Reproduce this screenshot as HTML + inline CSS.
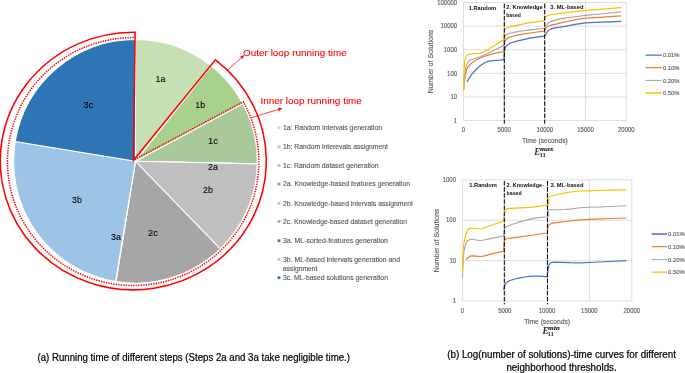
<!DOCTYPE html>
<html><head><meta charset="utf-8"><title>figure</title>
<style>html,body{margin:0;padding:0;background:#fff}body{width:685px;height:373px;overflow:hidden}svg text{white-space:pre}</style></head>
<body>
<svg width="685" height="373" viewBox="0 0 685 373" style="display:block;will-change:transform;opacity:0.9999">
<rect width="685" height="373" fill="#fff"/>
<g id="pie">
<path d="M135.45,161.30 L135.45,39.45 A121.85,121.85 0 0 1 211.30,65.94 Z" fill="#C5E0B4" stroke="#fff" stroke-width="1.05" stroke-linejoin="round"/>
<path d="M135.45,161.30 L211.30,65.94 A121.85,121.85 0 0 1 242.94,103.91 Z" fill="#A9D18E" stroke="#fff" stroke-width="1.05" stroke-linejoin="round"/>
<path d="M135.45,161.30 L242.94,103.91 A121.85,121.85 0 0 1 257.27,163.85 Z" fill="#A9C99B" stroke="#fff" stroke-width="1.05" stroke-linejoin="round"/>
<path d="M135.45,161.30 L257.27,163.85 A121.85,121.85 0 0 1 257.27,164.06 Z" fill="#8FB574" stroke="#fff" stroke-width="1.05" stroke-linejoin="round"/>
<path d="M135.45,161.30 L257.27,164.06 A121.85,121.85 0 0 1 220.25,248.80 Z" fill="#BFBFBF" stroke="#fff" stroke-width="1.05" stroke-linejoin="round"/>
<path d="M135.45,161.30 L220.25,248.80 A121.85,121.85 0 0 1 115.97,281.58 Z" fill="#A6A6A6" stroke="#fff" stroke-width="1.05" stroke-linejoin="round"/>
<path d="M135.45,161.30 L115.97,281.58 A121.85,121.85 0 0 1 115.55,281.51 Z" fill="#548235" stroke="#fff" stroke-width="1.05" stroke-linejoin="round"/>
<path d="M135.45,161.30 L115.55,281.51 A121.85,121.85 0 0 1 15.24,141.40 Z" fill="#9DC3E6" stroke="#fff" stroke-width="1.05" stroke-linejoin="round"/>
<path d="M135.45,161.30 L15.24,141.40 A121.85,121.85 0 0 1 135.45,39.45 Z" fill="#2E75B6" stroke="#fff" stroke-width="1.05" stroke-linejoin="round"/>
</g>
<path d="M133.45,160.2 L215.47,59.78 A133.0,128.8 0 1 1 135.10,32.26 Z" fill="none" stroke="#FF0000" stroke-width="1.55" stroke-linejoin="miter"/>
<path d="M133.45,160.2 L243.28,101.72 A125.7,123.95 0 1 1 134.00,37.60" fill="none" stroke="#FF0000" stroke-width="1.5" stroke-dasharray="1.4 1.1" stroke-dashoffset="1.0"/>
<line x1="228.30" y1="69.50" x2="241.28" y2="57.81" stroke="#FF0000" stroke-width="0.75"/><path d="M244.40,55.00 L242.42,59.07 L240.14,56.55 Z" fill="#FF0000"/>
<line x1="251.10" y1="117.60" x2="278.37" y2="109.50" stroke="#FF0000" stroke-width="0.75"/><path d="M282.40,108.30 L278.86,111.13 L277.89,107.87 Z" fill="#FF0000"/>
<g font-family="Liberation Sans, sans-serif">
<text x="243.1" y="56.1" font-size="9.7" fill="#FF0000" textLength="103.6" lengthAdjust="spacingAndGlyphs" stroke="#FF0000" stroke-width="0.08">Outer loop running time</text>
<text x="260.4" y="104" font-size="9.7" fill="#FF0000" textLength="101.5" lengthAdjust="spacingAndGlyphs" stroke="#FF0000" stroke-width="0.08">Inner loop running time</text>
<text x="160.4" y="81.8" font-size="9.6" fill="#000" text-anchor="middle" textLength="9.8" lengthAdjust="spacingAndGlyphs" stroke="#000" stroke-width="0.1">1a</text>
<text x="200.2" y="107.6" font-size="9.6" fill="#000" text-anchor="middle" textLength="9.8" lengthAdjust="spacingAndGlyphs" stroke="#000" stroke-width="0.1">1b</text>
<text x="212.9" y="143.8" font-size="9.6" fill="#000" text-anchor="middle" textLength="9.8" lengthAdjust="spacingAndGlyphs" stroke="#000" stroke-width="0.1">1c</text>
<text x="212.9" y="170.3" font-size="9.6" fill="#000" text-anchor="middle" textLength="9.8" lengthAdjust="spacingAndGlyphs" stroke="#000" stroke-width="0.1">2a</text>
<text x="207.9" y="193.3" font-size="9.6" fill="#000" text-anchor="middle" textLength="9.8" lengthAdjust="spacingAndGlyphs" stroke="#000" stroke-width="0.1">2b</text>
<text x="152.9" y="235.8" font-size="9.6" fill="#000" text-anchor="middle" textLength="9.8" lengthAdjust="spacingAndGlyphs" stroke="#000" stroke-width="0.1">2c</text>
<text x="115.9" y="239.8" font-size="9.6" fill="#000" text-anchor="middle" textLength="9.8" lengthAdjust="spacingAndGlyphs" stroke="#000" stroke-width="0.1">3a</text>
<text x="76.9" y="203.3" font-size="9.6" fill="#000" text-anchor="middle" textLength="9.8" lengthAdjust="spacingAndGlyphs" stroke="#000" stroke-width="0.1">3b</text>
<text x="88.4" y="108.3" font-size="9.6" fill="#000" text-anchor="middle" textLength="9.8" lengthAdjust="spacingAndGlyphs" stroke="#000" stroke-width="0.1">3c</text>
<rect x="277.6" y="126.3" width="2.8" height="2.8" fill="#C5E0B4"/>
<text x="283" y="129.9" font-size="6.3" fill="#595959" textLength="99" lengthAdjust="spacingAndGlyphs" stroke="#595959" stroke-width="0.12">1a: Random intervals generation</text>
<rect x="277.6" y="145.5" width="2.8" height="2.8" fill="#A9D18E"/>
<text x="283" y="149.1" font-size="6.3" fill="#595959" textLength="105" lengthAdjust="spacingAndGlyphs" stroke="#595959" stroke-width="0.12">1b: Random interevals assignment</text>
<rect x="277.6" y="164.1" width="2.8" height="2.8" fill="#A9C99B"/>
<text x="283" y="167.7" font-size="6.3" fill="#595959" textLength="95.5" lengthAdjust="spacingAndGlyphs" stroke="#595959" stroke-width="0.12">1c: Random dataset generation</text>
<rect x="277.6" y="182.7" width="2.8" height="2.8" fill="#7DB55B"/>
<text x="283" y="186.3" font-size="6.3" fill="#595959" textLength="127" lengthAdjust="spacingAndGlyphs" stroke="#595959" stroke-width="0.12">2a. Knowledge-based features generation</text>
<rect x="277.6" y="201.9" width="2.8" height="2.8" fill="#BFBFBF"/>
<text x="283" y="205.5" font-size="6.3" fill="#595959" textLength="130" lengthAdjust="spacingAndGlyphs" stroke="#595959" stroke-width="0.12">2b. Knowledge-based intervals assignment</text>
<rect x="277.6" y="220.2" width="2.8" height="2.8" fill="#A6A6A6"/>
<text x="283" y="223.8" font-size="6.3" fill="#595959" textLength="124" lengthAdjust="spacingAndGlyphs" stroke="#595959" stroke-width="0.12">2c. Knowledge-based dataset generation</text>
<rect x="277.6" y="239.3" width="2.8" height="2.8" fill="#4E8F2F"/>
<text x="283" y="242.9" font-size="6.3" fill="#595959" textLength="105" lengthAdjust="spacingAndGlyphs" stroke="#595959" stroke-width="0.12">3a. ML-sorted-features generation</text>
<rect x="277.6" y="257.9" width="2.8" height="2.8" fill="#9DC3E6"/>
<text x="283" y="261.5" font-size="6.3" fill="#595959" textLength="117" lengthAdjust="spacingAndGlyphs" stroke="#595959" stroke-width="0.12">3b. ML-based intervals generation and</text>
<rect x="277.6" y="276.3" width="2.8" height="2.8" fill="#2E75B6"/>
<text x="283" y="279.9" font-size="6.3" fill="#595959" textLength="105" lengthAdjust="spacingAndGlyphs" stroke="#595959" stroke-width="0.12">3c. ML-based solutions generation</text>
<text x="283" y="270.6" font-size="6.3" fill="#595959" textLength="34.3" lengthAdjust="spacingAndGlyphs" stroke="#595959" stroke-width="0.12">assignment</text>
<text x="37.5" y="360.6" font-size="10.4" fill="#000" textLength="312.5" lengthAdjust="spacingAndGlyphs" stroke="#000" stroke-width="0.22">(a) Running time of different steps (Steps 2a and 3a take negligible time.)</text>
<text x="447.2" y="358.4" font-size="10.4" fill="#000" textLength="228.8" lengthAdjust="spacingAndGlyphs" stroke="#000" stroke-width="0.22">(b) Log(number of solutions)-time curves for different</text>
<text x="506.4" y="370.7" font-size="10.4" fill="#000" textLength="110.3" lengthAdjust="spacingAndGlyphs" stroke="#000" stroke-width="0.22">neighborhood thresholds.</text>
</g>
<g>
<line x1="463.5" y1="2.50" x2="626.3" y2="2.50" stroke="#D4D4D4" stroke-width="0.75"/>
<line x1="463.5" y1="26.10" x2="626.3" y2="26.10" stroke="#D4D4D4" stroke-width="0.75"/>
<line x1="463.5" y1="49.70" x2="626.3" y2="49.70" stroke="#D4D4D4" stroke-width="0.75"/>
<line x1="463.5" y1="73.30" x2="626.3" y2="73.30" stroke="#D4D4D4" stroke-width="0.75"/>
<line x1="463.5" y1="96.90" x2="626.3" y2="96.90" stroke="#D4D4D4" stroke-width="0.75"/>
<line x1="463.5" y1="120.50" x2="626.3" y2="120.50" stroke="#D4D4D4" stroke-width="0.75"/>
<line x1="463.50" y1="2.5" x2="463.50" y2="120.5" stroke="#D4D4D4" stroke-width="0.75"/>
<line x1="504.20" y1="2.5" x2="504.20" y2="120.5" stroke="#D4D4D4" stroke-width="0.75"/>
<line x1="544.90" y1="2.5" x2="544.90" y2="120.5" stroke="#D4D4D4" stroke-width="0.75"/>
<line x1="585.60" y1="2.5" x2="585.60" y2="120.5" stroke="#D4D4D4" stroke-width="0.75"/>
<line x1="626.30" y1="2.5" x2="626.30" y2="120.5" stroke="#D4D4D4" stroke-width="0.75"/>
<path d="M467.3,81.4 L468.8,79.0 L470.0,77.0 L471.5,74.6 L474.2,71.5 L477.7,68.0 L481.2,64.9 L484.8,62.7 L488.3,61.3 L491.0,60.8 L495.4,60.4 L499.8,60.1 L503.9,59.7 L504.3,54.0 L504.7,50.0 L505.5,47.3 L507.0,45.2 L510.0,43.3 L515.0,41.6 L520.0,40.3 L530.0,38.2 L540.0,36.6 L544.4,36.1 L545.3,35.2 L546.0,34.3 L547.0,32.1 L548.0,30.9 L549.0,29.9 L552.0,28.7 L556.0,27.6 L560.0,27.2 L565.0,26.4 L575.0,24.4 L585.6,22.8 L600.0,22.2 L610.0,21.8 L620.8,21.3" fill="none" stroke="#4472C4" stroke-width="1.2" stroke-linejoin="round" stroke-linecap="round"/>
<path d="M463.8,89.0 L464.1,84.0 L464.6,80.0 L465.1,76.0 L465.6,73.3 L466.6,69.7 L468.0,67.0 L470.6,64.0 L473.3,61.9 L476.0,60.3 L480.4,57.8 L486.5,55.6 L492.7,53.9 L498.0,52.7 L503.9,51.6 L504.3,45.0 L504.8,41.9 L506.0,39.2 L508.0,37.9 L510.0,37.0 L515.0,35.7 L520.0,34.7 L530.0,33.0 L540.0,31.7 L544.4,31.2 L545.2,29.8 L546.0,28.1 L547.0,27.1 L548.0,26.4 L552.0,24.9 L556.0,24.1 L560.0,23.2 L565.0,22.0 L575.0,19.8 L585.6,18.1 L600.0,17.3 L610.0,16.7 L620.8,15.9" fill="none" stroke="#ED7D31" stroke-width="1.2" stroke-linejoin="round" stroke-linecap="round"/>
<path d="M463.7,89.6 L464.0,82.0 L464.6,75.0 L465.3,70.6 L466.2,66.2 L467.5,63.1 L468.8,61.3 L470.6,59.9 L475.0,58.5 L480.4,56.7 L486.5,54.0 L492.7,50.9 L498.0,48.3 L502.5,46.1 L503.9,45.3 L504.3,40.0 L504.8,37.0 L506.0,34.8 L508.0,33.8 L510.0,33.2 L515.0,32.1 L520.0,31.2 L530.0,29.9 L540.0,28.8 L544.4,28.4 L545.2,27.0 L546.0,25.5 L547.0,24.2 L548.0,23.3 L550.0,22.0 L552.0,21.1 L556.0,19.9 L560.0,18.9 L565.0,18.1 L575.0,16.7 L585.6,15.4 L600.0,14.0 L610.0,13.0 L620.8,11.9" fill="none" stroke="#A5A5A5" stroke-width="1.1" stroke-linejoin="round" stroke-linecap="round"/>
<path d="M463.7,89.6 L463.9,80.0 L464.2,68.0 L464.7,62.0 L465.3,58.0 L466.2,56.2 L467.1,55.2 L469.7,54.0 L474.2,53.6 L478.0,53.4 L480.4,53.1 L482.2,52.6 L483.9,51.8 L486.5,50.3 L489.2,48.7 L495.4,44.9 L500.7,41.6 L503.8,39.7 L504.2,34.0 L504.5,30.0 L505.2,28.8 L507.0,27.7 L510.0,26.8 L515.0,25.7 L520.0,24.6 L530.0,22.6 L540.0,21.3 L544.3,20.6 L544.8,19.0 L545.5,17.1 L546.5,16.2 L548.0,15.5 L552.0,14.4 L555.0,14.1 L560.0,13.4 L565.0,12.9 L575.0,11.6 L585.6,10.4 L600.0,9.3 L610.0,8.6 L620.8,7.7" fill="none" stroke="#FFC000" stroke-width="1.2" stroke-linejoin="round" stroke-linecap="round"/>
<line x1="504.3" y1="3.7" x2="504.3" y2="123.7" stroke="#000" stroke-width="1.0" stroke-dasharray="4.6 1.5"/>
<line x1="544.7" y1="3.7" x2="544.7" y2="123.7" stroke="#000" stroke-width="1.0" stroke-dasharray="4.6 1.5"/>
<g font-family="Liberation Sans, sans-serif">
<text x="457.1" y="4.7" font-size="6.3" fill="#595959" text-anchor="end" textLength="19.9" lengthAdjust="spacingAndGlyphs" stroke="#595959" stroke-width="0.12">100000</text>
<text x="457.1" y="28.3" font-size="6.3" fill="#595959" text-anchor="end" textLength="16.6" lengthAdjust="spacingAndGlyphs" stroke="#595959" stroke-width="0.12">10000</text>
<text x="457.1" y="51.9" font-size="6.3" fill="#595959" text-anchor="end" textLength="13.3" lengthAdjust="spacingAndGlyphs" stroke="#595959" stroke-width="0.12">1000</text>
<text x="457.1" y="75.5" font-size="6.3" fill="#595959" text-anchor="end" textLength="10.0" lengthAdjust="spacingAndGlyphs" stroke="#595959" stroke-width="0.12">100</text>
<text x="457.1" y="99.1" font-size="6.3" fill="#595959" text-anchor="end" textLength="6.6" lengthAdjust="spacingAndGlyphs" stroke="#595959" stroke-width="0.12">10</text>
<text x="457.1" y="122.7" font-size="6.3" fill="#595959" text-anchor="end" textLength="3.3" lengthAdjust="spacingAndGlyphs" stroke="#595959" stroke-width="0.12">1</text>
<text x="463.5" y="132.0" font-size="6.3" fill="#595959" text-anchor="middle" textLength="3.3" lengthAdjust="spacingAndGlyphs" stroke="#595959" stroke-width="0.12">0</text>
<text x="504.2" y="132.0" font-size="6.3" fill="#595959" text-anchor="middle" textLength="13.3" lengthAdjust="spacingAndGlyphs" stroke="#595959" stroke-width="0.12">5000</text>
<text x="544.9" y="132.0" font-size="6.3" fill="#595959" text-anchor="middle" textLength="16.6" lengthAdjust="spacingAndGlyphs" stroke="#595959" stroke-width="0.12">10000</text>
<text x="585.6" y="132.0" font-size="6.3" fill="#595959" text-anchor="middle" textLength="16.6" lengthAdjust="spacingAndGlyphs" stroke="#595959" stroke-width="0.12">15000</text>
<text x="626.3" y="132.0" font-size="6.3" fill="#595959" text-anchor="middle" textLength="16.6" lengthAdjust="spacingAndGlyphs" stroke="#595959" stroke-width="0.12">20000</text>
<text x="544.9" y="143.2" font-size="6.9" fill="#595959" text-anchor="middle" textLength="45.8" lengthAdjust="spacingAndGlyphs" stroke="#595959" stroke-width="0.12">Time (seconds)</text>
<text transform="translate(432.8,61.5) rotate(-90)" font-size="6.3" fill="#595959" text-anchor="middle" textLength="63.6" lengthAdjust="spacingAndGlyphs" stroke="#595959" stroke-width="0.12">Number of Solutions</text>
<text x="468.7" y="9.7" font-size="5.9" fill="#0d0d0d" textLength="27.5" lengthAdjust="spacingAndGlyphs" font-weight="bold" >1.Random</text>
<text x="506.3" y="8.9" font-size="5.9" fill="#0d0d0d" textLength="36.4" lengthAdjust="spacingAndGlyphs" font-weight="bold" >2. Knowledge</text>
<text x="506.3" y="16.8" font-size="5.9" fill="#0d0d0d" textLength="14.4" lengthAdjust="spacingAndGlyphs" font-weight="bold" >based</text>
<text x="550.3" y="8.9" font-size="5.9" fill="#0d0d0d" textLength="33.2" lengthAdjust="spacingAndGlyphs" font-weight="bold" >3. ML-based</text>
<line x1="646" y1="55.2" x2="661.3" y2="55.2" stroke="#4472C4" stroke-width="1.3" stroke-linecap="round"/>
<text x="662.9" y="57.3" font-size="6.0" fill="#595959" textLength="16.7" lengthAdjust="spacingAndGlyphs" stroke="#595959" stroke-width="0.12">0.01%</text>
<line x1="646" y1="67.6" x2="661.3" y2="67.6" stroke="#ED7D31" stroke-width="1.3" stroke-linecap="round"/>
<text x="662.9" y="69.7" font-size="6.0" fill="#595959" textLength="16.7" lengthAdjust="spacingAndGlyphs" stroke="#595959" stroke-width="0.12">0.10%</text>
<line x1="646" y1="80.4" x2="661.3" y2="80.4" stroke="#A5A5A5" stroke-width="1.0" stroke-linecap="round"/>
<text x="662.9" y="82.5" font-size="6.0" fill="#595959" textLength="16.7" lengthAdjust="spacingAndGlyphs" stroke="#595959" stroke-width="0.12">0.20%</text>
<line x1="646" y1="93" x2="661.3" y2="93" stroke="#FFC000" stroke-width="1.3" stroke-linecap="round"/>
<text x="662.9" y="95.1" font-size="6.0" fill="#595959" textLength="16.7" lengthAdjust="spacingAndGlyphs" stroke="#595959" stroke-width="0.12">0.50%</text>
</g>
<g font-family="Liberation Serif, serif" font-style="italic" font-weight="bold" fill="#262626"><text x="534.3" y="154.8" font-size="9.6" textLength="6.0" lengthAdjust="spacingAndGlyphs">E</text><text x="540.0" y="150.7" font-size="6.2" textLength="13.6" lengthAdjust="spacingAndGlyphs" stroke="#262626" stroke-width="0.15">max</text><text x="539.5" y="156.7" font-size="6.2" font-style="normal" textLength="6.4" lengthAdjust="spacingAndGlyphs">11</text></g>
</g>
<g>
<line x1="462.4" y1="179.80" x2="631.8" y2="179.80" stroke="#D4D4D4" stroke-width="0.75"/>
<line x1="462.4" y1="220.23" x2="631.8" y2="220.23" stroke="#D4D4D4" stroke-width="0.75"/>
<line x1="462.4" y1="260.67" x2="631.8" y2="260.67" stroke="#D4D4D4" stroke-width="0.75"/>
<line x1="462.4" y1="301.10" x2="631.8" y2="301.10" stroke="#D4D4D4" stroke-width="0.75"/>
<line x1="462.40" y1="179.8" x2="462.40" y2="301.1" stroke="#D4D4D4" stroke-width="0.75"/>
<line x1="504.75" y1="179.8" x2="504.75" y2="301.1" stroke="#D4D4D4" stroke-width="0.75"/>
<line x1="547.10" y1="179.8" x2="547.10" y2="301.1" stroke="#D4D4D4" stroke-width="0.75"/>
<line x1="589.45" y1="179.8" x2="589.45" y2="301.1" stroke="#D4D4D4" stroke-width="0.75"/>
<line x1="631.80" y1="179.8" x2="631.80" y2="301.1" stroke="#D4D4D4" stroke-width="0.75"/>
<path d="M503.7,289.7 L504.3,287.0 L505.0,285.0 L506.0,283.2 L507.5,281.8 L510.0,280.5 L515.0,279.0 L520.0,277.8 L525.0,277.0 L530.0,276.3 L535.0,276.0 L540.0,276.2 L547.2,276.8 L547.7,272.0 L548.2,268.0 L549.0,265.0 L550.0,263.3 L551.5,262.5 L554.0,262.1 L560.0,262.3 L570.0,262.7 L580.0,262.8 L589.4,262.5 L600.0,262.0 L610.0,261.5 L625.8,260.6" fill="none" stroke="#4472C4" stroke-width="1.2" stroke-linejoin="round" stroke-linecap="round"/>
<path d="M466.4,259.4 L467.0,258.5 L467.7,257.7 L469.5,256.4 L472.2,255.8 L475.7,256.1 L480.1,256.5 L483.7,256.1 L489.0,254.6 L495.2,253.1 L503.7,251.1 L504.0,245.0 L504.4,240.5 L505.0,239.4 L508.0,238.3 L510.0,238.1 L518.0,237.1 L530.0,235.5 L540.0,234.0 L547.2,233.0 L547.6,229.0 L548.2,226.3 L549.0,225.0 L550.0,224.2 L552.0,223.3 L555.0,222.8 L560.0,222.1 L565.0,221.5 L575.0,220.3 L589.4,219.3 L600.0,218.8 L610.0,218.5 L625.8,218.0" fill="none" stroke="#ED7D31" stroke-width="1.2" stroke-linejoin="round" stroke-linecap="round"/>
<path d="M462.5,277.0 L462.8,270.0 L463.3,258.0 L464.0,251.0 L464.6,248.0 L466.0,243.3 L467.7,240.7 L470.4,239.3 L473.0,239.3 L476.6,240.0 L480.1,240.5 L483.7,240.0 L489.0,238.9 L495.2,237.6 L503.7,236.0 L504.1,231.5 L504.6,228.3 L507.0,226.5 L512.0,224.4 L518.0,222.4 L525.0,220.5 L530.0,219.1 L535.0,218.1 L540.0,217.5 L547.2,216.7 L548.5,216.3 L548.9,215.0 L548.5,212.5 L548.1,210.3 L548.6,209.7 L551.0,209.7 L555.0,209.8 L560.0,209.7 L565.0,209.5 L570.0,209.1 L575.0,208.5 L580.0,207.8 L589.4,207.3 L600.0,207.0 L610.0,206.5 L625.8,205.8" fill="none" stroke="#A5A5A5" stroke-width="1.1" stroke-linejoin="round" stroke-linecap="round"/>
<path d="M462.6,270.0 L462.9,258.0 L463.3,248.0 L463.9,243.0 L464.6,239.8 L466.0,234.0 L467.7,230.0 L470.0,228.5 L472.6,228.1 L475.7,228.5 L479.2,229.0 L482.8,228.5 L487.2,226.9 L493.4,224.7 L498.7,222.8 L503.7,221.0 L504.1,216.0 L504.6,212.5 L505.5,210.0 L507.0,208.8 L510.0,208.3 L520.0,207.8 L530.0,207.3 L540.0,206.1 L547.2,205.1 L548.4,204.6 L548.9,203.3 L548.7,201.0 L548.0,198.6 L548.1,197.2 L549.5,196.6 L552.0,196.0 L556.0,195.0 L560.0,194.0 L565.0,192.9 L570.0,192.0 L580.0,191.0 L589.4,190.8 L600.0,190.5 L610.0,190.2 L625.8,189.8" fill="none" stroke="#FFC000" stroke-width="1.2" stroke-linejoin="round" stroke-linecap="round"/>
<line x1="504.3" y1="181.0" x2="504.3" y2="304.3" stroke="#000" stroke-width="1.0" stroke-dasharray="4.6 1.5"/>
<line x1="547.5" y1="181.0" x2="547.5" y2="304.3" stroke="#000" stroke-width="1.0" stroke-dasharray="4.6 1.5"/>
<g font-family="Liberation Sans, sans-serif">
<text x="456.0" y="182.0" font-size="6.3" fill="#595959" text-anchor="end" textLength="13.3" lengthAdjust="spacingAndGlyphs" stroke="#595959" stroke-width="0.12">1000</text>
<text x="456.0" y="222.4" font-size="6.3" fill="#595959" text-anchor="end" textLength="10.0" lengthAdjust="spacingAndGlyphs" stroke="#595959" stroke-width="0.12">100</text>
<text x="456.0" y="262.9" font-size="6.3" fill="#595959" text-anchor="end" textLength="6.6" lengthAdjust="spacingAndGlyphs" stroke="#595959" stroke-width="0.12">10</text>
<text x="456.0" y="303.3" font-size="6.3" fill="#595959" text-anchor="end" textLength="3.3" lengthAdjust="spacingAndGlyphs" stroke="#595959" stroke-width="0.12">1</text>
<text x="462.4" y="312.8" font-size="6.3" fill="#595959" text-anchor="middle" textLength="3.3" lengthAdjust="spacingAndGlyphs" stroke="#595959" stroke-width="0.12">0</text>
<text x="504.8" y="312.8" font-size="6.3" fill="#595959" text-anchor="middle" textLength="13.3" lengthAdjust="spacingAndGlyphs" stroke="#595959" stroke-width="0.12">5000</text>
<text x="547.1" y="312.8" font-size="6.3" fill="#595959" text-anchor="middle" textLength="16.6" lengthAdjust="spacingAndGlyphs" stroke="#595959" stroke-width="0.12">10000</text>
<text x="589.4" y="312.8" font-size="6.3" fill="#595959" text-anchor="middle" textLength="16.6" lengthAdjust="spacingAndGlyphs" stroke="#595959" stroke-width="0.12">15000</text>
<text x="631.8" y="312.8" font-size="6.3" fill="#595959" text-anchor="middle" textLength="16.6" lengthAdjust="spacingAndGlyphs" stroke="#595959" stroke-width="0.12">20000</text>
<text x="547.1" y="324.1" font-size="6.9" fill="#595959" text-anchor="middle" textLength="45.8" lengthAdjust="spacingAndGlyphs" stroke="#595959" stroke-width="0.12">Time (seconds)</text>
<text transform="translate(439.0,240.5) rotate(-90)" font-size="6.3" fill="#595959" text-anchor="middle" textLength="63.6" lengthAdjust="spacingAndGlyphs" stroke="#595959" stroke-width="0.12">Number of Solutions</text>
<text x="469.2" y="187.0" font-size="5.9" fill="#0d0d0d" textLength="27.8" lengthAdjust="spacingAndGlyphs" font-weight="bold" >1.Random</text>
<text x="506.6" y="186.8" font-size="5.9" fill="#0d0d0d" textLength="37.4" lengthAdjust="spacingAndGlyphs" font-weight="bold" >2. Knowledge-</text>
<text x="506.6" y="194.7" font-size="5.9" fill="#0d0d0d" textLength="15.0" lengthAdjust="spacingAndGlyphs" font-weight="bold" >based</text>
<text x="550.4" y="186.8" font-size="5.9" fill="#0d0d0d" textLength="33.1" lengthAdjust="spacingAndGlyphs" font-weight="bold" >3. ML-based</text>
<line x1="652.2" y1="234" x2="666.7" y2="234" stroke="#4472C4" stroke-width="1.3" stroke-linecap="round"/>
<text x="668.1" y="236.1" font-size="6.0" fill="#595959" textLength="16.7" lengthAdjust="spacingAndGlyphs" stroke="#595959" stroke-width="0.12">0.01%</text>
<line x1="652.2" y1="246.7" x2="666.7" y2="246.7" stroke="#ED7D31" stroke-width="1.3" stroke-linecap="round"/>
<text x="668.1" y="248.8" font-size="6.0" fill="#595959" textLength="16.7" lengthAdjust="spacingAndGlyphs" stroke="#595959" stroke-width="0.12">0.10%</text>
<line x1="652.2" y1="259.6" x2="666.7" y2="259.6" stroke="#A5A5A5" stroke-width="1.0" stroke-linecap="round"/>
<text x="668.1" y="261.7" font-size="6.0" fill="#595959" textLength="16.7" lengthAdjust="spacingAndGlyphs" stroke="#595959" stroke-width="0.12">0.20%</text>
<line x1="652.2" y1="272.1" x2="666.7" y2="272.1" stroke="#FFC000" stroke-width="1.3" stroke-linecap="round"/>
<text x="668.1" y="274.2" font-size="6.0" fill="#595959" textLength="16.7" lengthAdjust="spacingAndGlyphs" stroke="#595959" stroke-width="0.12">0.50%</text>
</g>
<g font-family="Liberation Serif, serif" font-style="italic" font-weight="bold" fill="#262626"><text x="542.4" y="334.2" font-size="9.6" textLength="6.0" lengthAdjust="spacingAndGlyphs">E</text><text x="548.1" y="330.1" font-size="6.2" textLength="11.7" lengthAdjust="spacingAndGlyphs" stroke="#262626" stroke-width="0.15">min</text><text x="547.6" y="336.1" font-size="6.2" font-style="normal" textLength="6.4" lengthAdjust="spacingAndGlyphs">11</text></g>
</g>
</svg>
</body></html>
